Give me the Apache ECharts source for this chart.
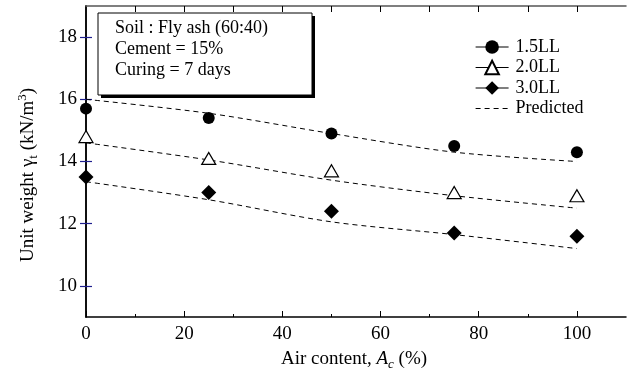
<!DOCTYPE html>
<html>
<head>
<meta charset="utf-8">
<script src="https://cdn.jsdelivr.net/npm/echarts@6/dist/echarts.min.js"></script>
<style>html,body{margin:0;padding:0;background:#fff}#c{width:629px;height:381px}</style>
</head>
<body>
<div id="c"></div>
<script>
const airContent = [0, 25, 50, 75, 100];
const ll15 = [15.7, 15.4, 14.9, 14.5, 14.3];
const ll20 = [14.8, 14.1, 13.7, 13.0, 12.9];
const ll30 = [13.5, 13.0, 12.4, 11.7, 11.6];
const pred15 = [16.0, 15.55, 14.9, 14.3, 14.0];
const pred20 = [14.6, 14.05, 13.4, 12.9, 12.5];
const pred30 = [13.35, 12.77, 12.06, 11.65, 11.2];
const xTickLabels = [0, 20, 40, 60, 80, 100];
const xMinorTicks = [10, 30, 50, 70, 90];
const xTopTicks = [10, 20, 30, 40, 50, 60, 70, 80, 90, 100];
const yTickLabels = [10, 12, 14, 16, 18];
const boxLines = ['Soil : Fly ash (60:40)', 'Cement = 15%', 'Curing = 7 days'];

const F = 'Liberation Serif, Times New Roman, serif';
const pairs = (xs, ys) => xs.map((x, i) => [x, ys[i]]);
const tickBlue = '#1f1f8f';

const chart = echarts.init(document.getElementById('c'));
chart.setOption({
  animation: false,
  backgroundColor: '#fff',
  grid: { left: 86, right: 3, top: 6, bottom: 64, containLabel: false },
  xAxis: [
    { type: 'value', min: 0, max: 110, position: 'bottom',
      axisLine: { show: true, lineStyle: { color: '#000', width: 1.5 } },
      axisTick: { show: true, inside: true, length: 6, customValues: xTickLabels, lineStyle: { color: '#000', width: 1 } },
      axisLabel: { show: true, customValues: xTickLabels, margin: 8, color: '#000', fontFamily: F, fontSize: 19 },
      splitLine: { show: false } },
    { type: 'value', min: 0, max: 110, position: 'bottom', gridIndex: 0,
      axisLine: { show: false },
      axisTick: { show: true, inside: true, length: 3, customValues: xMinorTicks, lineStyle: { color: '#000', width: 1 } },
      axisLabel: { show: false }, splitLine: { show: false } },
    { type: 'value', min: 0, max: 110, position: 'top',
      axisLine: { show: true, lineStyle: { color: '#555', width: 1.5 } },
      axisTick: { show: true, inside: true, length: 6, customValues: xTopTicks, lineStyle: { color: '#000', width: 1 } },
      axisLabel: { show: false }, splitLine: { show: false } }
  ],
  yAxis: [
    { type: 'value', min: 9, max: 19, position: 'left',
      axisLine: { show: true, lineStyle: { color: '#000', width: 1.5 } },
      axisTick: { show: true, inside: true, length: 6, customValues: yTickLabels, lineStyle: { color: tickBlue, width: 1.2 } },
      axisLabel: { show: true, customValues: yTickLabels, margin: 9, color: '#000', fontFamily: F, fontSize: 19 },
      splitLine: { show: false } },
    { type: 'value', min: 9, max: 19, position: 'right',
      axisLine: { show: true, lineStyle: { color: '#000', width: 1.5 } },
      axisTick: { show: true, inside: true, length: 6, customValues: yTickLabels, lineStyle: { color: tickBlue, width: 1.2 } },
      axisLabel: { show: false }, splitLine: { show: false } }
  ],
  legend: {
    orient: 'vertical', left: 470, top: 33,
    itemWidth: 33, itemHeight: 17, itemGap: 2.5,
    textStyle: { fontFamily: F, fontSize: 18, color: '#000', padding: [0, 0, 0, 2] },
    lineStyle: { opacity: 1, color: '#000', width: 1.2 },
    data: ['1.5LL', '2.0LL', '3.0LL', { name: 'Predicted', itemStyle: { opacity: 0 } }]
  },
  series: [
    { name: 'Predicted', type: 'line', data: pairs(airContent, pred15), symbol: 'none', smooth: 0.3,
      lineStyle: { color: '#000', width: 1, type: [5, 4] }, itemStyle: { color: '#000' } },
    { name: 'Predicted', type: 'line', data: pairs(airContent, pred20), symbol: 'none', smooth: 0.3,
      lineStyle: { color: '#000', width: 1, type: [5, 4] }, itemStyle: { color: '#000' } },
    { name: 'Predicted', type: 'line', data: pairs(airContent, pred30), symbol: 'none', smooth: 0.3,
      lineStyle: { color: '#000', width: 1, type: [5, 4] }, itemStyle: { color: '#000' } },
    { name: '1.5LL', type: 'line', data: pairs(airContent, ll15), symbol: 'circle', symbolSize: 12,
      lineStyle: { opacity: 0 }, itemStyle: { color: '#000' }, z: 5 },
    { name: '2.0LL', type: 'line', data: pairs(airContent, ll20), symbol: 'triangle', symbolSize: [14, 12],
      lineStyle: { opacity: 0 }, itemStyle: { color: '#fff', borderColor: '#000', borderWidth: 1.2 }, z: 5 },
    { name: '3.0LL', type: 'line', data: pairs(airContent, ll30), symbol: 'diamond', symbolSize: 15,
      lineStyle: { opacity: 0 }, itemStyle: { color: '#000' }, z: 5 }
  ],
  graphic: [
    { type: 'rect', shape: { x: 101, y: 16, width: 214, height: 82 }, style: { fill: '#000' }, z: 10 },
    { type: 'rect', shape: { x: 98, y: 13, width: 214, height: 82 }, style: { fill: '#fff', stroke: '#000', lineWidth: 1 }, z: 11 },
    { type: 'text', x: 115, y: 28, z: 12, style: { text: boxLines[0], fontFamily: F, fontSize: 18, fill: '#000', textVerticalAlign: 'middle' } },
    { type: 'text', x: 115, y: 49, z: 12, style: { text: boxLines[1], fontFamily: F, fontSize: 18, fill: '#000', textVerticalAlign: 'middle' } },
    { type: 'text', x: 115, y: 70, z: 12, style: { text: boxLines[2], fontFamily: F, fontSize: 18, fill: '#000', textVerticalAlign: 'middle' } },
    { type: 'text', x: 28, y: 175, rotation: Math.PI / 2, z: 12,
      style: { text: '{n|Unit weight }{n|γ}{s|t}{n| (kN/m}{p|3}{n|)}', textAlign: 'center', textVerticalAlign: 'middle',
        rich: {
          n: { fontFamily: F, fontSize: 19, fill: '#000', lineHeight: 24, verticalAlign: 'middle' },
          s: { fontFamily: F, fontSize: 13, fill: '#000', lineHeight: 24, verticalAlign: 'bottom' },
          p: { fontFamily: F, fontSize: 13, fill: '#000', lineHeight: 24, verticalAlign: 'top' }
        } } },
    { type: 'text', x: 354, y: 359, z: 12,
      style: { text: '{n|Air content, }{i|A}{s|c}{n| (%)}', textAlign: 'center', textVerticalAlign: 'middle',
        rich: {
          n: { fontFamily: F, fontSize: 19, fill: '#000', lineHeight: 24, verticalAlign: 'middle' },
          i: { fontFamily: F, fontSize: 19, fontStyle: 'italic', fill: '#000', lineHeight: 24, verticalAlign: 'middle' },
          s: { fontFamily: F, fontSize: 13, fontStyle: 'italic', fill: '#000', lineHeight: 24, verticalAlign: 'bottom' }
        } } }
  ]
});
</script>
</body>
</html>
